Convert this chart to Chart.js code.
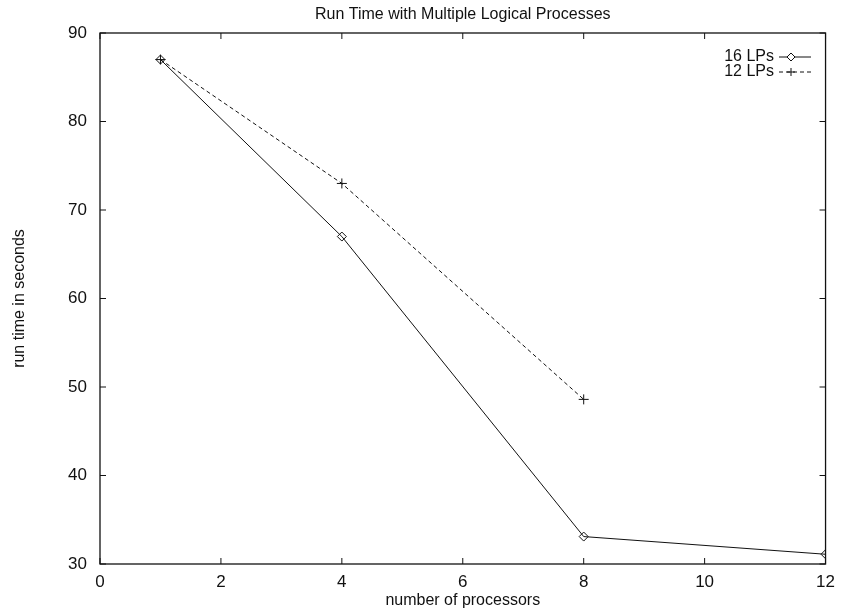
<!DOCTYPE html>
<html>
<head>
<meta charset="utf-8">
<script src="https://cdn.jsdelivr.net/npm/chart.js@4/dist/chart.umd.min.js"></script>
<style>
  html, body { margin: 0; padding: 0; background: #fff; }
  #wrap { width: 843px; height: 614px; }
</style>
</head>
<body>
<div id="wrap"><canvas id="myChart" width="843" height="614"></canvas></div>
<script>
var processors16 = [1, 4, 8, 12];
var runTime16 = [87, 67, 33.1, 31.1];
var processors12 = [1, 4, 8];
var runTime12 = [87, 73, 48.6];
var xTicks = [0, 2, 4, 6, 8, 10, 12];
var yTicks = [30, 40, 50, 60, 70, 80, 90];

var FONT = "'Liberation Sans', Arial, sans-serif";

function toPoints(xs, ys) {
  var pts = [];
  for (var i = 0; i < xs.length; i++) pts.push({ x: xs[i], y: ys[i] });
  return pts;
}

// gnuplot style frame: inward ticks on all four sides, titles, legend at top right
var framePlugin = {
  id: "frame",
  afterDraw: function (chart) {
    var ctx = chart.ctx;
    var a = chart.chartArea;
    var xs = chart.scales.x;
    var ys = chart.scales.y;
    ctx.save();
    ctx.strokeStyle = "#111";
    ctx.lineWidth = 1.3;
    ctx.strokeRect(a.left, a.top, a.right - a.left, a.bottom - a.top);

    ctx.lineWidth = 1;
    var len = 6;
    ctx.beginPath();
    for (var i = 0; i < xTicks.length; i++) {
      var px = xs.getPixelForValue(xTicks[i]);
      ctx.moveTo(px, a.bottom); ctx.lineTo(px, a.bottom - len);
      ctx.moveTo(px, a.top); ctx.lineTo(px, a.top + len);
    }
    for (var j = 0; j < yTicks.length; j++) {
      var py = ys.getPixelForValue(yTicks[j]);
      ctx.moveTo(a.left, py); ctx.lineTo(a.left + len, py);
      ctx.moveTo(a.right, py); ctx.lineTo(a.right - len, py);
    }
    ctx.stroke();

    var cx = (a.left + a.right) / 2;
    ctx.fillStyle = "#111";
    ctx.textAlign = "center";
    ctx.textBaseline = "middle";
    ctx.font = "16px " + FONT;
    ctx.fillText("Run Time with Multiple Logical Processes", cx, 15);
    ctx.fillText("number of processors", cx, 601);

    ctx.save();
    ctx.translate(20, (a.top + a.bottom) / 2);
    ctx.rotate(-Math.PI / 2);
    ctx.fillText("run time in seconds", 0, 0);
    ctx.restore();

    // legend: label then sample line with marker
    var rows = [{ text: "16 LPs", y: 57, dash: [], style: "rectRot" },
                { text: "12 LPs", y: 72, dash: [4, 3], style: "cross" }];
    for (var k = 0; k < rows.length; k++) {
      var r = rows[k];
      ctx.fillStyle = "#111";
      ctx.textAlign = "right";
      ctx.fillText(r.text, 774, r.y);
      ctx.beginPath();
      ctx.setLineDash(r.dash);
      ctx.moveTo(779, r.y);
      ctx.lineTo(811, r.y);
      ctx.stroke();
      ctx.setLineDash([]);
      ctx.fillStyle = "#fff";
      Chart.helpers.drawPoint(ctx, { pointStyle: r.style, radius: 4, rotation: 0, borderWidth: 1 }, 791, r.y);
    }
    ctx.restore();
  }
};

var ctx = document.getElementById("myChart").getContext("2d");
var myChart = new Chart(ctx, {
  type: "line",
  data: {
    datasets: [
      {
        label: "16 LPs",
        data: toPoints(processors16, runTime16),
        borderColor: "#111",
        backgroundColor: "#fff",
        borderWidth: 1,
        pointStyle: "rectRot",
        pointRadius: 4.5,
        pointBorderWidth: 1,
        pointBorderColor: "#111",
        pointBackgroundColor: "rgba(255,255,255,0)",
        tension: 0,
      },
      {
        label: "12 LPs",
        data: toPoints(processors12, runTime12),
        borderColor: "#111",
        borderWidth: 1,
        borderDash: [4, 3],
        pointStyle: "cross",
        pointRadius: 5,
        pointBorderWidth: 1,
        pointBorderColor: "#111",
        tension: 0,
      },
    ],
  },
  options: {
    responsive: false,
    animation: false,
    layout: { padding: { left: 0, right: 13, top: 33, bottom: 0 } },
    plugins: {
      legend: { display: false },
      title: { display: false },
      tooltip: { enabled: false },
    },
    scales: {
      x: {
        type: "linear",
        min: 0,
        max: 12,
        afterBuildTicks: function (s) { s.ticks = xTicks.map(function (v) { return { value: v }; }); },
        afterFit: function (s) { s.height = 50; },
        grid: { drawOnChartArea: false, drawTicks: false },
        border: { display: false },
        ticks: { color: "#111", padding: 8, font: { family: FONT, size: 17 }, maxRotation: 0 },
      },
      y: {
        min: 30,
        max: 90,
        afterBuildTicks: function (s) { s.ticks = yTicks.map(function (v) { return { value: v }; }); },
        afterFit: function (s) { s.width = 100; },
        grid: { drawOnChartArea: false, drawTicks: false },
        border: { display: false },
        ticks: { color: "#111", padding: 13, font: { family: FONT, size: 17 } },
      },
    },
  },
  plugins: [framePlugin],
});
</script>
</body>
</html>
